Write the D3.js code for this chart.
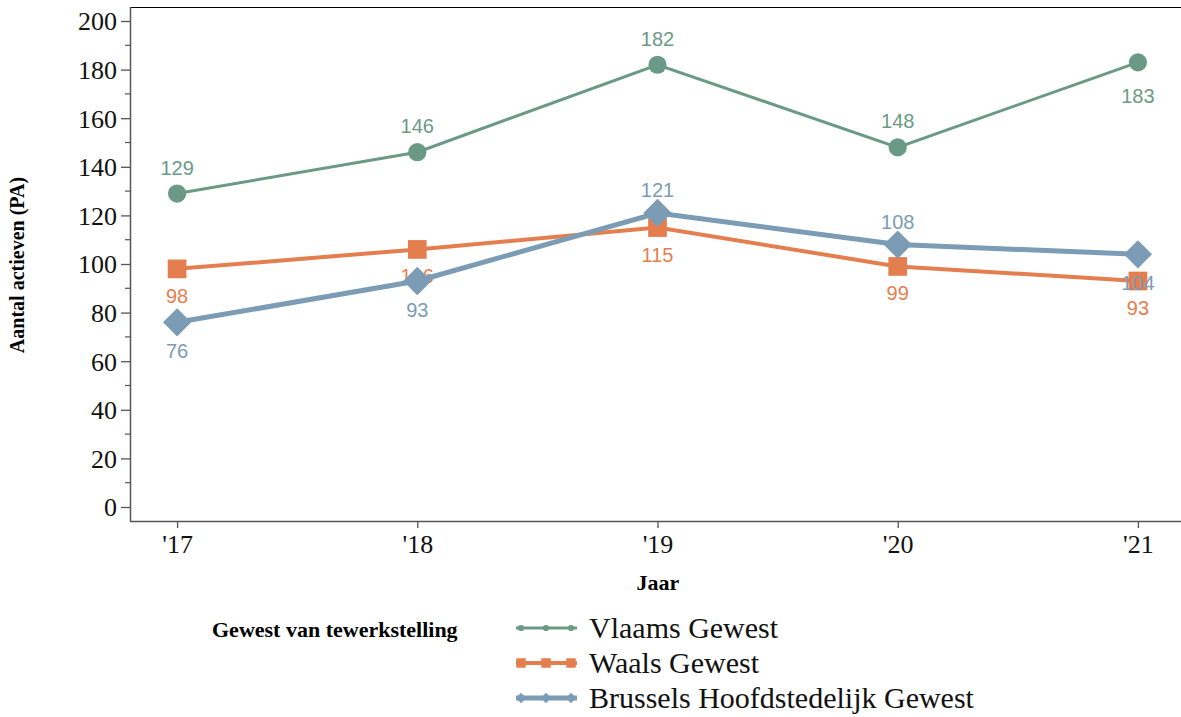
<!DOCTYPE html>
<html><head><meta charset="utf-8">
<script src="https://cdn.jsdelivr.net/npm/d3@7"></script>
<style>body{margin:0;background:#fff}svg{display:block}</style>
</head><body>
<svg id="c" width="1181" height="717"></svg>
<script>
const years = ["'17","'18","'19","'20","'21"];
const vlaams = [129,146,182,148,183];
const waals = [98,106,115,99,93];
const brussel = [76,93,121,108,104];
const seriesNames = ["Vlaams Gewest","Waals Gewest","Brussels Hoofdstedelijk Gewest"];
const yTicks = [0,20,40,60,80,100,120,140,160,180,200];
// label placement: -1 above, +1 below
const vlaamsPos = [-1,-1,-1,-1,1];
const waalsPos = [1,1,1,1,1];
const brusselPos = [1,1,-1,-1,1];

const svg = d3.select("#c");
const x = d3.scalePoint().domain(years).range([130,1185]).padding(0.196);
const y = d3.scaleLinear().domain([0,200]).range([507,21]);
const serif = "'Liberation Serif','DejaVu Serif',serif";
const sans = "'Liberation Sans',Arial,sans-serif";

// frame
svg.append("line").attr("x1",130).attr("x2",1181).attr("y1",7.5).attr("y2",7.5).attr("stroke","#000").attr("stroke-width",1.2);

// y axis
const ya = svg.append("g").attr("transform","translate(130,0)")
  .call(d3.axisLeft(y).tickValues(yTicks).tickSize(9).tickPadding(4));
ya.select(".domain").attr("d","M0.5,7V521.5").attr("stroke","#555").attr("stroke-width",1.5);
ya.selectAll(".tick line").attr("stroke","#555").attr("stroke-width",1.3);
ya.selectAll("text").attr("font-family",serif).attr("font-size",26).attr("fill","#111").attr("dy","0.34em");
const minor = d3.range(10,200,20);
ya.selectAll(".minor").data(minor).enter().append("line").attr("class","minor")
  .attr("x1",-5).attr("x2",0).attr("y1",d=>y(d)).attr("y2",d=>y(d)).attr("stroke","#555").attr("stroke-width",1.2);

// x axis
const xa = svg.append("g").attr("transform","translate(0,521)")
  .call(d3.axisBottom(x).tickSize(7).tickPadding(6));
xa.select(".domain").attr("d","M130,0.5H1181").attr("stroke","#555").attr("stroke-width",1.5);
xa.selectAll(".tick line").attr("stroke","#555").attr("stroke-width",1.3);
xa.selectAll("text").attr("font-family",serif).attr("font-size",26).attr("fill","#111").attr("dy","0.72em");

// axis titles
svg.append("text").attr("transform","translate(24,265) rotate(-90)").attr("text-anchor","middle")
  .attr("font-family",serif).attr("font-weight","bold").attr("font-size",20).text("Aantal actieven (PA)");
svg.append("text").attr("x",658).attr("y",590).attr("text-anchor","middle")
  .attr("font-family",serif).attr("font-weight","bold").attr("font-size",22).text("Jaar");

const series = [
  {name:seriesNames[0], vals:vlaams, pos:vlaamsPos, color:"#6a9a87", w:3, shape:d3.symbolCircle, size:260, rot:0, lsize:30, up:-26, down:34},
  {name:seriesNames[1], vals:waals, pos:waalsPos, color:"#e57e4f", w:4, shape:d3.symbolSquare, size:350, rot:0, lsize:90, up:-26, down:27},
  {name:seriesNames[2], vals:brussel, pos:brusselPos, color:"#7c9bb4", w:5, shape:d3.symbolSquare, size:400, rot:45, lsize:55, up:-23, down:29}
];

series.forEach(s=>{
  const g = svg.append("g");
  const line = d3.line().x((d,i)=>x(years[i])).y(d=>y(d));
  g.append("path").datum(s.vals).attr("d",line).attr("fill","none").attr("stroke",s.color).attr("stroke-width",s.w);
  g.selectAll(".m").data(s.vals).enter().append("path")
    .attr("transform",(d,i)=>`translate(${x(years[i])},${y(d)}) rotate(${s.rot})`)
    .attr("d",d3.symbol().type(s.shape).size(s.size)).attr("fill",s.color);
  g.selectAll(".l").data(s.vals).enter().append("text")
    .attr("x",(d,i)=>x(years[i])).attr("y",(d,i)=>y(d)+(s.pos[i]<0?s.up:s.down)+7)
    .attr("text-anchor","middle").attr("font-family",sans).attr("font-size",20).attr("fill",s.color)
    .text(d=>d);
});

// legend
svg.append("text").attr("x",212).attr("y",637).attr("font-family",serif).attr("font-weight","bold").attr("font-size",22).text("Gewest van tewerkstelling");
series.forEach((s,i)=>{
  const ly = 628 + i*35;
  svg.append("line").attr("x1",516).attr("x2",577).attr("y1",ly).attr("y2",ly).attr("stroke",s.color).attr("stroke-width",s.w);
  [521,546,571].forEach(px=>{
    svg.append("path").attr("transform",`translate(${px},${ly}) rotate(${s.rot})`).attr("d",d3.symbol().type(s.shape).size(s.lsize)).attr("fill",s.color);
  });
  svg.append("text").attr("x",589).attr("y",ly+10).attr("font-family",serif).attr("font-size",30).attr("fill","#111").text(s.name);
});
</script>
</body></html>
